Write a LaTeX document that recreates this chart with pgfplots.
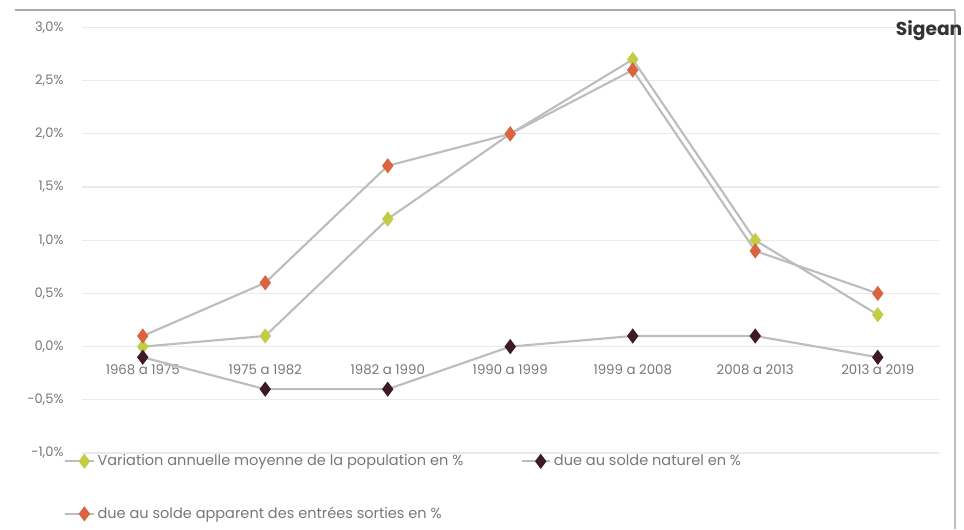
\documentclass[border=0pt]{standalone}
\usepackage{pgfplots}
\pgfplotsset{compat=1.18}
\usepackage{fontspec}
\setmainfont{Poppins}
\definecolor{gline}{HTML}{BDBDBD}
\definecolor{cgreen}{HTML}{C2CC45}
\definecolor{cdark}{HTML}{3D1A2A}
\definecolor{corange}{HTML}{DA6440}
\definecolor{ctext}{HTML}{777777}
\definecolor{cgrid}{HTML}{EAEAEA}
\begin{document}
\begin{tikzpicture}[x=0.75pt,y=0.75pt]
\useasboundingbox (0,0) rectangle (964,529);
\draw[color=gline!90!black, line width=2.2pt] (15,519) -- (955,519);
\draw[color=gline, line width=1.2pt] (955,519) -- (955,0);
\begin{axis}[
  at={(81.5*0.75pt,76*0.75pt)}, anchor=south west,
  scale only axis, width=857.5*0.75pt, height=425.5*0.75pt,
  xmin=-0.5, xmax=6.5, ymin=-1, ymax=3,
  axis line style={draw=none},
  major tick length=0pt,
  xtick={0,...,6},
  xticklabels={1968 a 1975,1975 a 1982,1982 a 1990,1990 a 1999,1999 a 2008,2008 a 2013,2013 a 2019},
  xticklabel style={font=\fontsize{10}{11}\selectfont, text=ctext, yshift=70pt},
  ytick={-1,-0.5,0,0.5,1,1.5,2,2.5,3},
  yticklabels={{-1,0\%},{-0,5\%},{0,0\%},{0,5\%},{1,0\%},{1,5\%},{2,0\%},{2,5\%},{3,0\%}},
  yticklabel style={font=\fontsize{9.8}{10}\selectfont, text=ctext, xshift=-10pt},
  ymajorgrids, grid style={cgrid, line width=0.9pt},
  legend columns=2,
  legend cell align=left,
  legend style={at={(-0.025,0.009)}, anchor=north west, draw=none, fill=none,
    font=\fontsize{10.9}{12}\selectfont, text=ctext,
    /tikz/every even column/.append style={column sep=41pt},
    row sep=25.5pt},
  legend image code/.code={\draw[#1, mark=none] (0cm,0cm) -- (0.75cm,0cm); \draw[#1, draw=none] plot coordinates {(0.5cm,0cm)};},
]
\addplot[color=gline, line width=1.6pt, mark=diamond*, mark size=4.4pt, mark options={draw=cgreen, fill=cgreen}] coordinates {(0,0.0) (1,0.1) (2,1.2) (3,2.0) (4,2.7) (5,1.0) (6,0.3)};
\addlegendentry{Variation annuelle moyenne de la population en \%}
\addplot[color=gline, line width=1.6pt, mark=diamond*, mark size=4.4pt, mark options={draw=cdark, fill=cdark}] coordinates {(0,-0.1) (1,-0.4) (2,-0.4) (3,0.0) (4,0.1) (5,0.1) (6,-0.1)};
\addlegendentry{due au solde naturel en \%}
\addplot[color=gline, line width=1.6pt, mark=diamond*, mark size=4.4pt, mark options={draw=corange, fill=corange}] coordinates {(0,0.1) (1,0.6) (2,1.7) (3,2.0) (4,2.6) (5,0.9) (6,0.5)};
\addlegendentry{due au solde apparent des entrées sorties en \%}
\end{axis}
\node[anchor=east, font=\fontsize{14}{16}\selectfont\bfseries, text=black!80] at (967,498) {Sigean};
\end{tikzpicture}
\end{document}
